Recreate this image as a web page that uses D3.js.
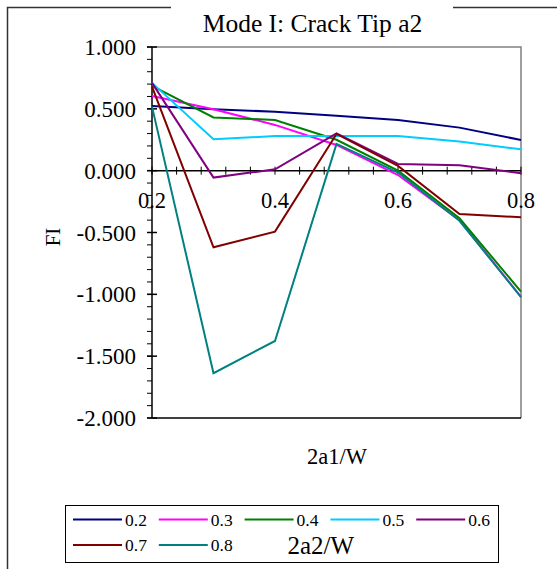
<!DOCTYPE html>
<html>
<head>
<meta charset="utf-8">
<script src="https://cdn.jsdelivr.net/npm/d3@7"></script>
<style>
  body { margin: 0; background: #fff; }
</style>
</head>
<body>
<svg id="chart"></svg>
<script>
// crack length ratio 2a1/W along x
const xValues = [0.2, 0.3, 0.4, 0.5, 0.6, 0.7, 0.8];

// one series per 2a2/W
const seriesNames = ["0.2", "0.3", "0.4", "0.5", "0.6", "0.7", "0.8"];
const seriesColors = ["#000080", "#ff00ff", "#008000", "#00ccff", "#800080", "#800000", "#008080"];

const fi02 = [0.523, 0.496, 0.477, 0.445, 0.410, 0.348, 0.248];
const fi03 = [0.604, 0.496, 0.370, 0.208, -0.035, -0.400, -1.020];
const fi04 = [0.685, 0.430, 0.410, 0.250, 0.000, -0.385, -0.978];
const fi05 = [0.710, 0.254, 0.280, 0.280, 0.280, 0.235, 0.173];
const fi06 = [0.710, -0.056, 0.011, 0.302, 0.054, 0.044, -0.020];
const fi07 = [0.680, -0.620, -0.493, 0.297, 0.038, -0.350, -0.377];
const fi08 = [0.518, -1.638, -1.377, 0.216, -0.015, -0.405, -1.023];
const seriesValues = [fi02, fi03, fi04, fi05, fi06, fi07, fi08];

const yTicks = [1.0, 0.5, 0.0, -0.5, -1.0, -1.5, -2.0];
const xTicks = [0.2, 0.4, 0.6, 0.8];

const width = 557, height = 569;
const plot = {left: 152, right: 521, top: 47, bottom: 418};
const serif = "'Liberation Serif', 'Times New Roman', Times, 'DejaVu Serif', serif";

const svg = d3.select("#chart")
    .attr("width", width)
    .attr("height", height)
    .attr("font-family", serif);

const x = d3.scaleLinear().domain([0.2, 0.8]).range([plot.left, plot.right]);
const y = d3.scaleLinear().domain([-2, 1]).range([plot.bottom, plot.top]);

// outer chart frame, broken by the title
const frame = svg.append("g").attr("stroke", "#333").attr("stroke-width", 1.5).attr("fill", "none");
frame.append("path").attr("d", `M171,7.5 H7.5 V${height + 2}`);
frame.append("path").attr("d", `M453,7.5 H${width + 2}`);

svg.append("text")
    .attr("x", 312.5)
    .attr("y", 32)
    .attr("text-anchor", "middle")
    .attr("font-size", 25.5)
    .text("Mode I: Crack Tip a2");

// plot box
svg.append("path")
    .attr("d", `M${plot.left},${plot.top} H${plot.right} V${plot.bottom}`)
    .attr("fill", "none")
    .attr("stroke", "#808080")
    .attr("stroke-width", 1.5);
svg.append("line")
    .attr("x1", plot.left).attr("x2", plot.right)
    .attr("y1", plot.bottom).attr("y2", plot.bottom)
    .attr("stroke", "#000").attr("stroke-width", 1.5);

// y axis with minor ticks every 0.1
const yAxis = svg.append("g").attr("transform", `translate(${plot.left},0)`);
yAxis.append("line").attr("y1", plot.top).attr("y2", plot.bottom).attr("stroke", "#000").attr("stroke-width", 1.5);
yAxis.selectAll("line.minor")
    .data(d3.range(-20, 11).map(d => d / 10))
    .join("line")
    .attr("class", "minor")
    .attr("x1", -5).attr("x2", 0)
    .attr("y1", d => y(d)).attr("y2", d => y(d))
    .attr("stroke", "#000");
yAxis.selectAll("line.major")
    .data(yTicks)
    .join("line")
    .attr("class", "major")
    .attr("x1", -5).attr("x2", 5)
    .attr("y1", d => y(d)).attr("y2", d => y(d))
    .attr("stroke", "#000").attr("stroke-width", 1.5);
yAxis.selectAll("text")
    .data(yTicks)
    .join("text")
    .attr("x", -16)
    .attr("y", d => y(d))
    .attr("dy", "0.35em")
    .attr("text-anchor", "end")
    .attr("font-size", 23)
    .text(d => d3.format(".3f")(d).replace("−", "-"));

// x axis drawn at FI = 0
const xAxis = svg.append("g").attr("transform", `translate(0,${y(0)})`);
xAxis.append("line").attr("x1", plot.left).attr("x2", plot.right).attr("stroke", "#000").attr("stroke-width", 1.5);
xAxis.selectAll("line.minor")
    .data(d3.range(0, 16).map(i => 0.2 + i * 0.04))
    .join("line")
    .attr("class", "minor")
    .attr("x1", d => x(d)).attr("x2", d => x(d))
    .attr("y1", -4).attr("y2", 4)
    .attr("stroke", "#000");
xAxis.selectAll("text")
    .data(xTicks)
    .join("text")
    .attr("x", d => x(d))
    .attr("y", 29)
    .attr("dy", "0.35em")
    .attr("text-anchor", "middle")
    .attr("font-size", 22.5)
    .text(d => d.toFixed(1));

// series lines
const line = d3.line()
    .x((d, i) => x(xValues[i]))
    .y(d => y(d));

svg.append("g")
    .selectAll("path")
    .data(seriesValues)
    .join("path")
    .attr("d", line)
    .attr("fill", "none")
    .attr("stroke", (d, i) => seriesColors[i])
    .attr("stroke-width", 2)
    .attr("stroke-linejoin", "miter");

// axis titles
svg.append("text")
    .attr("transform", "translate(60,237) rotate(-90)")
    .attr("text-anchor", "middle")
    .attr("font-size", 21)
    .text("FI");
svg.append("text")
    .attr("x", 337)
    .attr("y", 464)
    .attr("text-anchor", "middle")
    .attr("font-size", 22.5)
    .text("2a1/W");

// legend
const legend = svg.append("g");
legend.append("rect")
    .attr("x", 65.5).attr("y", 505.5)
    .attr("width", 433).attr("height", 57)
    .attr("fill", "none").attr("stroke", "#000");
const items = legend.selectAll("g.item")
    .data(seriesNames)
    .join("g")
    .attr("class", "item")
    .attr("transform", (d, i) => `translate(${73 + (i % 5) * 85.8},${i < 5 ? 519.5 : 545})`);
items.append("line")
    .attr("x1", 0).attr("x2", 49)
    .attr("stroke", (d, i) => seriesColors[i])
    .attr("stroke-width", 2);
items.append("text")
    .attr("x", 52)
    .attr("dy", "0.35em")
    .attr("font-size", 17.5)
    .text(d => d);
legend.append("text")
    .attr("x", 287.5)
    .attr("y", 553.5)
    .attr("font-size", 25)
    .text("2a2/W");
</script>
</body>
</html>
